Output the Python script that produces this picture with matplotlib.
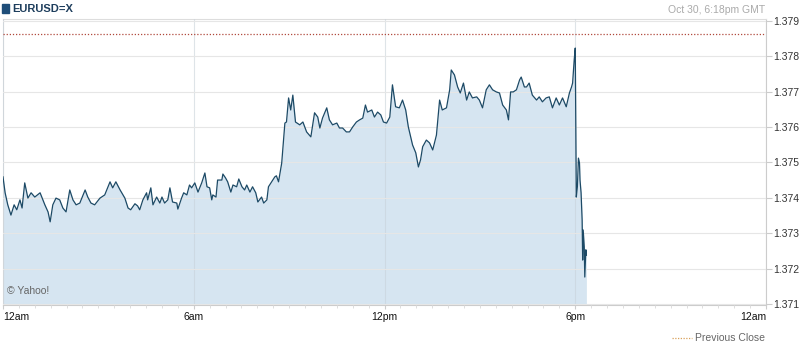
import matplotlib.pyplot as plt
from matplotlib.ticker import FixedLocator, MultipleLocator
from matplotlib.patches import Rectangle

plt.rcParams['font.family'] = ['Liberation Sans', 'DejaVu Sans']

# minutes after midnight (GMT) and EUR/USD quote
minutes = [0, 4, 9, 15, 21, 26, 32, 36, 41, 47, 53, 60, 70, 79, 85, 89, 94, 100, 107, 113,
           119, 126, 132, 138, 145, 155, 160, 166, 173, 183, 192, 202, 207, 213, 221, 230, 236, 241, 249, 254,
           258, 264, 271, 273, 279, 283, 290, 296, 300, 305, 311, 315, 320, 328, 330, 337, 341, 347, 352, 356,
           362, 368, 375, 381, 385, 390, 394, 396, 402, 405, 413, 415, 420, 424, 430, 434, 441, 445, 451, 456,
           460, 466, 471, 477, 481, 488, 492, 498, 501, 507, 513, 516, 520, 526, 528, 532, 535, 539, 543, 547,
           552, 560, 566, 573, 581, 588, 594, 598, 603, 611, 616, 622, 630, 635, 641, 648, 654, 660, 667, 673,
           679, 684, 688, 696, 701, 707, 713, 718, 724, 730, 735, 741, 748, 754, 760, 765, 773, 779, 784, 788,
           792, 799, 805, 811, 818, 824, 829, 837, 843, 846, 852, 858, 863, 869, 875, 880, 886, 894, 899, 905,
           912, 918, 924, 931, 937, 943, 950, 954, 958, 963, 969, 975, 978, 984, 988, 993, 999, 1007, 1012, 1018,
           1025, 1031, 1037, 1044, 1050, 1056, 1063, 1069, 1073, 1075, 1078, 1080, 1081, 1082, 1084, 1086, 1088,
           1089, 1091, 1093, 1094, 1095, 1097, 1098, 1100, 1101]
price = [1.37459, 1.37414, 1.37380, 1.37351, 1.37380, 1.37366, 1.37394, 1.37371, 1.37442, 1.37399,
         1.37414, 1.37402, 1.37414, 1.37380, 1.37360, 1.37332, 1.37380, 1.37399, 1.37394, 1.37371,
         1.37360, 1.37422, 1.37394, 1.37380, 1.37385, 1.37422, 1.37402, 1.37385, 1.37380, 1.37399,
         1.37408, 1.37445, 1.37428, 1.37445, 1.37422, 1.37399, 1.37371, 1.37366, 1.37383, 1.37377,
         1.37366, 1.37394, 1.37414, 1.37394, 1.37428, 1.37380, 1.37402, 1.37385, 1.37402, 1.37385,
         1.37394, 1.37428, 1.37388, 1.37385, 1.37368, 1.37399, 1.37414, 1.37408, 1.37436, 1.37428,
         1.37442, 1.37416, 1.37442, 1.37470, 1.37431, 1.37428, 1.37394, 1.37408, 1.37402, 1.37450,
         1.37450, 1.37467, 1.37456, 1.37445, 1.37416, 1.37436, 1.37431, 1.37453, 1.37431, 1.37422,
         1.37436, 1.37416, 1.37431, 1.37414, 1.37388, 1.37402, 1.37385, 1.37394, 1.37431, 1.37445,
         1.37459, 1.37462, 1.37445, 1.37498, 1.37535, 1.37611, 1.37614, 1.37682, 1.37648, 1.37690,
         1.37614, 1.37606, 1.37614, 1.37586, 1.37572, 1.37640, 1.37628, 1.37597, 1.37625, 1.37654,
         1.37620, 1.37606, 1.37611, 1.37597, 1.37597, 1.37586, 1.37586, 1.37600, 1.37614, 1.37620,
         1.37625, 1.37662, 1.37642, 1.37648, 1.37628, 1.37642, 1.37634, 1.37614, 1.37611, 1.37628,
         1.37719, 1.37657, 1.37654, 1.37676, 1.37648, 1.37600, 1.37549, 1.37527, 1.37487, 1.37507,
         1.37544, 1.37563, 1.37555, 1.37535, 1.37577, 1.37676, 1.37648, 1.37654, 1.37705, 1.37761,
         1.37747, 1.37713, 1.37696, 1.37724, 1.37676, 1.37699, 1.37682, 1.37685, 1.37676, 1.37654,
         1.37705, 1.37719, 1.37705, 1.37699, 1.37696, 1.37662, 1.37648, 1.37620, 1.37699, 1.37699,
         1.37705, 1.37733, 1.37741, 1.37713, 1.37713, 1.37724, 1.37690, 1.37676, 1.37685, 1.37671,
         1.37682, 1.37685, 1.37654, 1.37682, 1.37662, 1.37682, 1.37657, 1.37696, 1.37713, 1.37724,
         1.37789, 1.37823, 1.37611, 1.37402, 1.37431, 1.37512, 1.37498, 1.37450, 1.37414, 1.37337,
         1.37224, 1.37309, 1.37261, 1.37176, 1.37253, 1.37238]

prev_close = 1.37863
y_ticks = [1.371, 1.372, 1.373, 1.374, 1.375, 1.376, 1.377, 1.378, 1.379]
x_ticks = [0, 360, 720, 1080, 1440]
x_labels = ['12am', '6am', '12pm', '6pm', '12am']

fig = plt.figure(figsize=(8.0, 3.47), dpi=100)
ax = fig.add_axes([3 / 800, 1 - 305 / 347, 763 / 800, 286 / 347])

ymin = 1.37097
ax.fill_between(minutes, price, ymin, color='#d6e5f1', lw=0, zorder=1)
ax.plot(minutes, price, color='#1d4a66', lw=0.9, zorder=3)
ax.axhline(prev_close, color='#b0483c', lw=0.9, ls=(0, (1, 1.5)), zorder=4)

ax.set_xlim(0, 1440)
ax.set_ylim(ymin, 1.37905)

ax.yaxis.tick_right()
ax.set_yticks(y_ticks)
ax.set_yticklabels(['%.3f' % v for v in y_ticks])
ax.set_xticks(x_ticks)
ax.set_xticklabels(x_labels)
ax.xaxis.set_minor_locator(MultipleLocator(30))
for lab, ha in zip(ax.get_xticklabels(), ['left', 'center', 'center', 'center', 'right']):
    lab.set_ha(ha)

ax.tick_params(axis='y', which='major', direction='out', length=4, width=0.8,
               color='#cccccc', labelsize=7.5, labelcolor='#333333', pad=1)
ax.tick_params(axis='x', which='major', direction='out', length=3, width=0.8,
               color='#cccccc', labelsize=7.5, labelcolor='#111111', pad=2)
ax.tick_params(axis='x', which='minor', direction='out', length=2.5, width=0.7, color='#dddddd')

ax.grid(True, axis='y', color='#e6e6e6', lw=0.8, zorder=0)
ax.grid(True, axis='x', color='#c8d2da', lw=0.8, alpha=0.6, zorder=2)
ax.set_axisbelow(False)

for side in ['left', 'top']:
    ax.spines[side].set_color('#dddddd')
    ax.spines[side].set_linewidth(0.8)
for side in ['right', 'bottom']:
    ax.spines[side].set_color('#cccccc')
    ax.spines[side].set_linewidth(0.8)

ax.text(0.005, 0.03, '\u00a9 Yahoo!', transform=ax.transAxes, fontsize=7.5,
        color='#666666', ha='left', va='bottom', zorder=5)

# header
fig.patches.append(Rectangle((2 / 800, 1 - 13 / 347), 7 / 800, 9 / 347,
                             transform=fig.transFigure, color='#1f4e79'))
fig.text(12 / 800, 1 - 9 / 347, 'EURUSD=X', fontsize=8, fontweight='bold',
         color='#1d3d5c', ha='left', va='center')
fig.text(765 / 800, 1 - 10 / 347, 'Oct 30, 6:18pm GMT', fontsize=7.5,
         color='#aaaaaa', ha='right', va='center')

# legend for previous close
fig.lines.append(plt.Line2D([672 / 800, 692 / 800], [1 - 338 / 347, 1 - 338 / 347],
                            transform=fig.transFigure, color='#d9a05a', lw=0.9,
                            ls=(0, (1, 1.2))))
fig.text(695 / 800, 1 - 338 / 347, 'Previous Close', fontsize=7.5,
         color='#666666', ha='left', va='center')

fig.savefig('out.png', dpi=100)
